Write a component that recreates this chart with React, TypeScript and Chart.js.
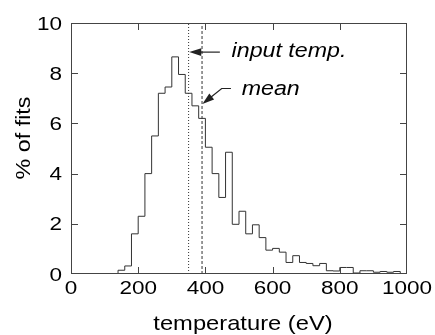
import React, { useEffect, useRef } from "react";
import { Chart, registerables } from "chart.js";

Chart.register(...registerables);

// ---- data ----
const binStarts = [
  140, 160, 180, 200, 220, 240, 260, 280, 300, 320, 340, 360, 380, 400, 420,
  440, 460, 480, 500, 520, 540, 560, 580, 600, 620, 640, 660, 680, 700, 720,
  740, 760, 780, 800, 820, 840, 860, 880, 900, 920, 940, 960,
];
const binPercent = [
  0.15, 0.32, 1.6, 2.3, 4.0, 5.5, 7.2, 7.45, 8.65, 7.95, 7.2, 6.7, 6.2, 5.05,
  4.0, 3.05, 4.85, 1.98, 2.5, 1.6, 1.96, 1.45, 0.95, 1.02, 0.87, 0.46, 0.73,
  0.46, 0.42, 0.33, 0.42, 0.13, 0.12, 0.26, 0.26, 0.04, 0.13, 0.13, 0.07, 0.1,
  0.07, 0.1,
];
const binEnd = 980;
const inputTemp = 350;
const meanTemp = 390;
const xTickValues = [0, 200, 400, 600, 800, 1000];
const yTickValues = [0, 2, 4, 6, 8, 10];
const xTitle = "temperature (eV)";
const yTitle = "% of fits";
const inputLabel = "input temp.";
const meanLabel = "mean";

const FONT = '"Liberation Sans", Arial, sans-serif';

function drawText(
  ctx: CanvasRenderingContext2D,
  text: string,
  x: number,
  y: number,
  font: string,
  sx: number,
  align: CanvasTextAlign,
  baseline: CanvasTextBaseline,
  rot = 0
) {
  ctx.save();
  ctx.translate(x, y);
  if (rot) ctx.rotate(rot);
  ctx.scale(sx, 1);
  ctx.font = font;
  ctx.textAlign = align;
  ctx.textBaseline = baseline;
  ctx.fillStyle = "#000";
  ctx.fillText(text, 0, 0);
  ctx.restore();
}

function arrowHead(
  ctx: CanvasRenderingContext2D,
  fx: number,
  fy: number,
  tx: number,
  ty: number,
  len: number,
  half: number
) {
  const a = Math.atan2(ty - fy, tx - fx);
  const bx = tx - Math.cos(a) * len;
  const by = ty - Math.sin(a) * len;
  ctx.beginPath();
  ctx.moveTo(tx, ty);
  ctx.lineTo(bx + Math.sin(a) * half, by - Math.cos(a) * half);
  ctx.lineTo(bx - Math.sin(a) * half, by + Math.cos(a) * half);
  ctx.closePath();
  ctx.fill();
}

const framePlugin = {
  id: "frameAndText",
  afterDraw(chart: any) {
    const ctx: CanvasRenderingContext2D = chart.ctx;
    const xs = chart.scales.x;
    const ys = chart.scales.y;
    const { left, right, top, bottom } = chart.chartArea;
    ctx.save();
    // frame
    ctx.strokeStyle = "#444";
    ctx.lineWidth = 1;
    ctx.strokeRect(left + 0.5, top + 0.5, right - left - 1, bottom - top - 1);
    // tick marks (inward)
    const tl = 7;
    ctx.beginPath();
    yTickValues.forEach((v) => {
      if (v === 0 || v === 10) return;
      const py = Math.round(ys.getPixelForValue(v)) + 0.5;
      ctx.moveTo(left, py);
      ctx.lineTo(left + tl, py);
      ctx.moveTo(right, py);
      ctx.lineTo(right - tl, py);
    });
    xTickValues.forEach((v) => {
      if (v === 0 || v === 1000) return;
      const px = Math.round(xs.getPixelForValue(v)) + 0.5;
      ctx.moveTo(px, bottom);
      ctx.lineTo(px, bottom - tl);
      ctx.moveTo(px, top);
      ctx.lineTo(px, top + tl);
    });
    ctx.stroke();

    // tick labels
    const tickFont = `18px ${FONT}`;
    yTickValues.forEach((v) => {
      const py = ys.getPixelForValue(v);
      drawText(ctx, String(v), left - 9, py + 6.5, tickFont, 1.25, "right", "alphabetic");
    });
    xTickValues.forEach((v) => {
      const px = xs.getPixelForValue(v);
      drawText(ctx, String(v), px, 294, tickFont, 1.25, "center", "alphabetic");
    });

    // axis titles
    const titleFont = `21px ${FONT}`;
    drawText(ctx, xTitle, (left + right) / 2 + 4, 329.5, titleFont, 1.13, "center", "alphabetic");
    drawText(ctx, yTitle, 30, 138, titleFont, 1.11, "center", "alphabetic", -Math.PI / 2);

    // annotations
    ctx.strokeStyle = "#222";
    ctx.fillStyle = "#222";
    ctx.lineWidth = 1.2;
    const P = (x: number, y: number) => [xs.getPixelForValue(x), ys.getPixelForValue(y)];
    const [it0x, it0y] = P(443, 8.84);
    const [it1x, it1y] = P(352, 8.84);
    ctx.beginPath();
    ctx.moveTo(it0x, it0y);
    ctx.lineTo(it1x + 10, it1y);
    ctx.stroke();
    arrowHead(ctx, it0x, it0y, it1x, it1y, 12, 3.8);

    const [m0x, m0y] = P(476, 7.39);
    const [m1x, m1y] = P(448.5, 7.39);
    const [m2x, m2y] = P(391, 6.77);
    ctx.beginPath();
    ctx.moveTo(m0x, m0y);
    ctx.lineTo(m1x, m1y);
    const a = Math.atan2(m2y - m1y, m2x - m1x);
    ctx.lineTo(m2x - Math.cos(a) * 10, m2y - Math.sin(a) * 10);
    ctx.stroke();
    arrowHead(ctx, m1x, m1y, m2x, m2y, 12, 3.8);

    const annFont = `italic 20px ${FONT}`;
    const [itx, ity] = P(478, 8.65);
    drawText(ctx, inputLabel, itx, ity, annFont, 1.16, "left", "alphabetic");
    const [mx, my] = P(508, 7.13);
    drawText(ctx, meanLabel, mx, my, annFont, 1.16, "left", "alphabetic");
    ctx.restore();
  },
};

export default function App() {
  const ref = useRef<HTMLCanvasElement | null>(null);
  useEffect(() => {
    document.body.style.margin = "0";
    document.body.style.overflow = "hidden";
    if (!ref.current) return;
    const histPoints = [
      { x: binStarts[0], y: 0 },
      ...binStarts.map((s, i) => ({ x: s, y: binPercent[i] })),
      { x: binEnd, y: 0 },
    ];
    const chart = new Chart(ref.current, {
      type: "line",
      data: {
        datasets: [
          {
            data: histPoints,
            stepped: "before",
            borderColor: "#333",
            borderWidth: 1,
            pointRadius: 0,
            fill: false,
          },
          {
            data: [
              { x: inputTemp, y: 0 },
              { x: inputTemp, y: 10 },
            ],
            borderColor: "#333",
            borderWidth: 1,
            borderDash: [1, 2],
            pointRadius: 0,
            fill: false,
          },
          {
            data: [
              { x: meanTemp, y: 0 },
              { x: meanTemp, y: 10 },
            ],
            borderColor: "#333",
            borderWidth: 1,
            borderDash: [3, 2],
            pointRadius: 0,
            fill: false,
          },
        ],
      },
      options: {
        responsive: false,
        devicePixelRatio: 1,
        animation: false,
        layout: { padding: { top: 23, right: 28, left: 0, bottom: 0 } },
        plugins: { legend: { display: false }, tooltip: { enabled: false } },
        scales: {
          x: {
            type: "linear",
            min: 0,
            max: 1000,
            ticks: { display: false },
            grid: { display: false },
            border: { display: false },
            afterFit: (s: any) => {
              s.height = 61;
            },
          },
          y: {
            type: "linear",
            min: 0,
            max: 10,
            ticks: { display: false },
            grid: { display: false },
            border: { display: false },
            afterFit: (s: any) => {
              s.width = 71;
            },
          },
        },
      },
      plugins: [framePlugin],
    } as any);
    return () => chart.destroy();
  }, []);
  return (
    <div style={{ width: 435, height: 335, background: "#fff" }}>
      <canvas ref={ref} width={435} height={335} style={{ display: "block" }} />
    </div>
  );
}
